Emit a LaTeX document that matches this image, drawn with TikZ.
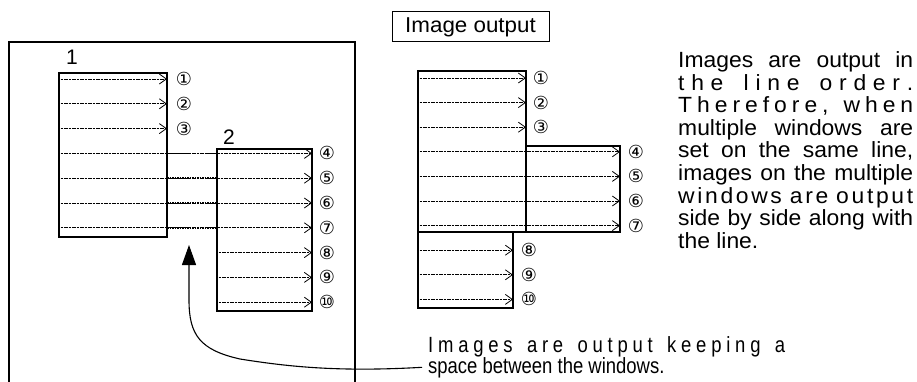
\documentclass[tikz,border=0pt]{standalone}
\usepackage{fontspec}
\setmainfont{Liberation Sans}
\newfontfamily\wfont{Liberation Sans}[FakeStretch=1.04]
\newfontfamily\nfont{Liberation Sans}[FakeStretch=0.84]
\newfontfamily\cfont{DejaVu Sans}
\usetikzlibrary{arrows.meta}
\def\g{\hskip0pt plus1fil\relax}
\def\G{\hskip0pt plus3fil\relax}
\newcommand\spreadline[2]{\makebox[#1][s]{#2}}
\begin{document}
\begin{tikzpicture}[x=1pt,y=-1pt,
  frame/.style={draw, line width=1.3pt},
  win/.style={draw, line width=1.1pt},
  row/.style={line width=0.9pt, dash pattern=on 1.1pt off 0.5pt,
    -{Straight Barb[length=7pt,width=10pt,line width=0.8pt]}},
  gapline/.style={line width=1.5pt, dash pattern=on 1.6pt off 0.9pt},
  circ/.style={inner sep=0, font=\fontsize{18}{18}\cfont},
  lab/.style={inner sep=0, font=\fontsize{21}{21}\selectfont},
  txt/.style={anchor=base west, inner sep=0},
  curve/.style={line width=1.1pt, -{Triangle[length=20pt,width=14pt]}}]
\useasboundingbox (0,0) rectangle (917,382);
% ---------- left frame ----------
\draw[frame] (9,382) -- (9,42) -- (355,42) -- (355,382);
\draw[win] (59,73) rectangle (167,237);
\draw[win] (217,149) rectangle (312,311);
\node[lab] (l1) at (72,57) {1};
\node[lab] (l2) at (229,137) {2};
\foreach \i/\c in {1/①,2/②,3/③}{
  \pgfmathsetmacro\y{79+(\i-1)*24.8}
  \coordinate (ls\i) at (59,\y);
  \coordinate (le\i) at (167,\y);
  \draw[row] (ls\i) -- (le\i);
  \node[circ] (ln\i) at (184,\y) {\c};
}
\foreach \i/\c in {4/④,5/⑤,6/⑥,7/⑦}{
  \pgfmathsetmacro\y{79+(\i-1)*24.8}
  \coordinate (ls\i) at (59,\y);
  \coordinate (lg\i) at (167,\y);
  \coordinate (lh\i) at (217,\y);
  \coordinate (le\i) at (312,\y);
  \draw[row] (ls\i) -- (le\i);
  \draw[gapline] (lg\i) -- (lh\i);
  \node[circ] (ln\i) at (327,\y) {\c};
}
\foreach \i/\c in {8/⑧,9/⑨,10/⑩}{
  \pgfmathsetmacro\y{79+(\i-1)*24.8}
  \coordinate (ls\i) at (217,\y);
  \coordinate (le\i) at (312,\y);
  \draw[row] (ls\i) -- (le\i);
  \node[circ] (ln\i) at (327,\y) {\c};
}
% ---------- image output ----------
\node[draw, line width=1pt, minimum width=157, minimum height=30, inner sep=0,
  font=\fontsize{21.5}{21.5}\wfont] (io) at (470.5,27) {Image output};
\draw[win] (418,71) rectangle (526,232);
\draw[win] (526,146) rectangle (620,232);
\draw[win] (418,232) rectangle (513,308);
\foreach \i/\c in {1/①,2/②,3/③}{
  \pgfmathsetmacro\y{78+(\i-1)*24.6}
  \coordinate (rs\i) at (418,\y);
  \coordinate (re\i) at (526,\y);
  \draw[row] (rs\i) -- (re\i);
  \node[circ] (rn\i) at (541,\y) {\c};
}
\foreach \i/\c in {4/④,5/⑤,6/⑥,7/⑦}{
  \pgfmathsetmacro\y{78+(\i-1)*24.6}
  \coordinate (rs\i) at (418,\y);
  \coordinate (re\i) at (620,\y);
  \draw[row] (rs\i) -- (re\i);
  \node[circ] (rn\i) at (636,\y) {\c};
}
\foreach \i/\c in {8/⑧,9/⑨,10/⑩}{
  \pgfmathsetmacro\y{78+(\i-1)*24.6}
  \coordinate (rs\i) at (418,\y);
  \coordinate (re\i) at (513,\y);
  \draw[row] (rs\i) -- (re\i);
  \node[circ] (rn\i) at (529,\y) {\c};
}
% ---------- right text ----------
\begin{scope}[every node/.style={txt, font=\fontsize{22}{22}\wfont}]
\node (t1) at (678,68)    {\spreadline{235pt}{Images are output in}};
\node (t2) at (678,90.5)  {\spreadline{235pt}{t\g h\g e\G l\g i\g n\g e\G o\g r\g d\g e\g r\g .}};
\node (t3) at (678,113)   {\spreadline{235pt}{T\g h\g e\g r\g e\g f\g o\g r\g e\g ,\G w\g h\g e\g n}};
\node (t4) at (678,135.5) {\spreadline{235pt}{multiple windows are}};
\node (t5) at (678,158)   {\spreadline{235pt}{set on the same line,}};
\node (t6) at (678,180.5) {\spreadline{235pt}{images on the multiple}};
\node (t7) at (678,203)   {\spreadline{235pt}{w\g i\g n\g d\g o\g w\g s\G a\g r\g e\G o\g u\g t\g p\g u\g t}};
\node (t8) at (678,225.5) {\spreadline{235pt}{side by side along with}};
\node (t9) at (678,248)   {the line.};
\end{scope}
% ---------- bottom note ----------
\node[txt, font=\fontsize{22}{22}\nfont] (b1) at (428,352)
  {\spreadline{357pt}{I\g m\g a\g g\g e\g s\G a\g r\g e\G o\g u\g t\g p\g u\g t\G k\g e\g e\g p\g i\g n\g g\G a}};
\node[txt, font=\fontsize{22}{22}\nfont] (b2) at (428,373) {space between the windows.};
\coordinate (tip) at (189,245);
\draw[curve] ([xshift=-6pt]b2.west) .. controls (340,372) and (290,367) .. (240,359)
  .. controls (200,350) and (189,335) .. (189,300) -- (tip);
\end{tikzpicture}
\end{document}
